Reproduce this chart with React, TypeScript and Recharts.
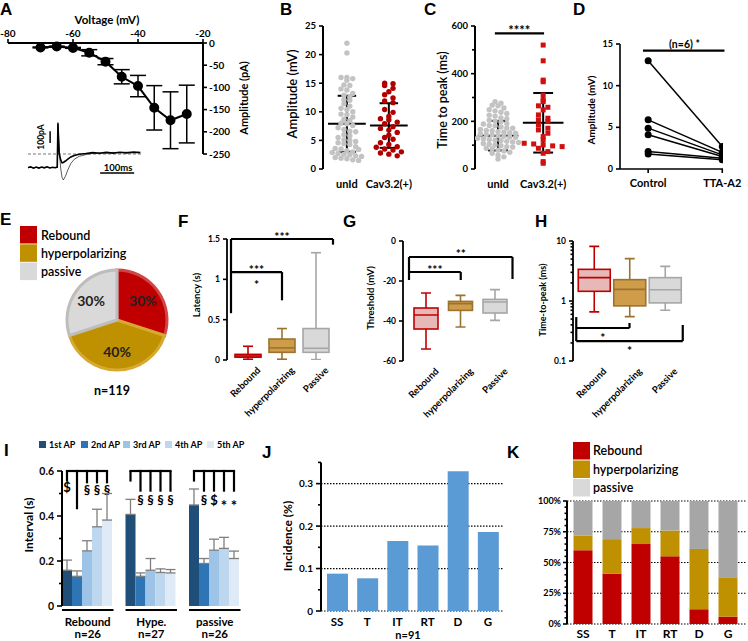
import React from "react";
import {
  LineChart,
  Line,
  XAxis,
  YAxis,
  ErrorBar,
  ScatterChart,
  Scatter,
  ReferenceLine,
  ReferenceDot,
  PieChart,
  Pie,
  Cell,
  BarChart,
  Bar,
  CartesianGrid,
} from "recharts";

const W = 748;
const H = 641;
const FONT = "Lato, 'Open Sans', sans-serif";
const HEAD_FONT = "'Liberation Sans', Arial, sans-serif";

// A: I-V relation
const voltage = [-70, -65, -60, -55, -50, -45, -40, -35, -30, -25];
const currentPA = [-10, -8, -11, -22, -42, -76, -97, -146, -174, -160];
const currentSem = [1, 1, 1, 7, 7, 16, 24, 50, 64, 65];
const aTicksX = [-80, -60, -40, -20];
const aTicksY = [0, -50, -100, -150, -200, -250];

// A inset: example current traces
const traceMs = [0, 8, 16, 24, 32, 40, 48, 56, 64, 72, 80, 86, 88, 90, 92, 96, 100, 104, 110, 118, 126, 136, 150, 170, 190, 210, 230, 250, 270, 290, 310, 330];
const traceLarge = [-118, -112, -120, -114, -119, -113, -117, -111, -118, -115, -116, -114, 270, 150, 20, -120, -200, -222, -190, -130, -80, -45, -20, -5, 5, 10, 8, 14, 10, 15, 12, 14];
const traceSmall = [-116, -110, -121, -112, -120, -111, -118, -109, -119, -113, -117, -112, 260, 110, 0, -50, -75, -72, -60, -42, -25, -12, -2, 4, 12, 6, 14, 8, 15, 10, 16, 12];

// B: amplitude (mV)
const groupNames = ["unId", "Cav3.2(+)"];
const ampUnId = [22.0, 20.3, 16.0, 16.0, 15.8, 15.5, 14.7, 14.6, 14.0, 13.8, 13.2, 12.9, 12.6, 12.1, 12.0, 11.4, 11.0, 10.6, 10.4, 10.0, 9.6, 9.5, 9.1, 8.7, 8.5, 8.0, 7.9, 7.6, 7.2, 6.9, 6.6, 6.5, 6.0, 5.8, 5.5, 5.1, 5.0, 4.6, 4.4, 4.3, 3.9, 3.6, 3.5, 3.2, 3.0, 2.9, 2.7, 2.6, 2.5, 2.3, 2.2, 2.0, 1.9, 1.8, 1.6, 1.5, 3.4, 4.8];
const ampCav = [15.0, 14.9, 14.6, 14.1, 13.5, 13.0, 12.4, 11.9, 11.6, 10.4, 9.9, 9.2, 8.8, 8.6, 8.2, 7.9, 7.4, 7.1, 6.8, 6.4, 5.9, 5.5, 5.2, 4.6, 4.3, 3.9, 3.8, 3.5, 3.3, 3.0, 2.8, 2.6, 2.3];
const ampMean = [7.9, 7.6];
const ampSd = [4.9, 3.9];

// C: time to peak (ms)
const ttpUnId = [282, 276, 268, 265, 256, 249, 244, 238, 233, 226, 222, 214, 211, 205, 201, 198, 191, 189, 183, 181, 176, 172, 171, 166, 162, 161, 157, 154, 152, 150, 147, 144, 143, 139, 137, 134, 133, 129, 127, 124, 121, 120, 116, 113, 111, 107, 104, 101, 98, 94, 92, 87, 84, 79, 76, 70, 66, 58, 51, 42];
const ttpCav = [520, 454, 373, 366, 310, 290, 283, 265, 259, 248, 227, 213, 206, 199, 185, 171, 164, 150, 136, 122, 108, 105, 101, 97, 94, 87, 73, 66, 31, 24];
const ttpMean = [140, 194];
const ttpSd = [62, 125];

// D: paired amplitude (mV)
const dCategories = ["Control", "TTA-A2"];
const ampControl = [13.0, 5.9, 4.9, 4.1, 2.1, 1.8];
const ampTTA = [2.7, 2.0, 1.7, 1.5, 1.3, 1.1];

// E: firing types
const typeNames = ["Rebound", "hyperpolarizing", "passive"];
const typeShare = [30, 40, 30];

// F, G, H: box plots
const boxCats = ["Rebound", "hyperpolarizing", "Passive"];
const latMin = [0.01, 0.01, 0.005];
const latQ1 = [0.035, 0.095, 0.095];
const latMed = [0.05, 0.15, 0.145];
const latQ3 = [0.07, 0.26, 0.39];
const latMax = [0.17, 0.39, 1.33];
const thrMin = [-54, -43, -39.7];
const thrQ1 = [-44, -34.7, -36];
const thrMed = [-37, -31.3, -30.5];
const thrQ3 = [-33.5, -30.2, -29.2];
const thrMax = [-26, -27.2, -24.3];
const ttpkMin = [0.66, 0.55, 0.7];
const ttpkQ1 = [1.45, 0.83, 0.93];
const ttpkMed = [2.45, 1.56, 1.54];
const ttpkQ3 = [3.37, 2.27, 2.45];
const ttpkMax = [8.15, 5.08, 3.78];

// I: inter-spike intervals (s)
const iGroups = ["Rebound", "Hype.", "passive"];
const iCounts = ["n=26", "n=27", "n=26"];
const apNames = ["1st AP", "2nd AP", "3rd AP", "4th AP", "5th AP"];
const ap1 = [0.159, 0.407, 0.449];
const ap2 = [0.132, 0.132, 0.189];
const ap3 = [0.245, 0.159, 0.248];
const ap4 = [0.352, 0.149, 0.256];
const ap5 = [0.382, 0.147, 0.211];
const ap1Err = [0.045, 0.067, 0.071];
const ap2Err = [0.024, 0.015, 0.022];
const ap3Err = [0.045, 0.052, 0.049];
const ap4Err = [0.078, 0.016, 0.049];
const ap5Err = [0.118, 0.015, 0.033];
const iBracketTop = 0.6;
const iLineEnd = [
  [0.553, 0.43, 0.545, 0.545, 0.545],
  [0.553, 0.508, 0.508, 0.508, 0.508],
  [0.553, 0.508, 0.508, 0.508, 0.508],
];
const iSymbols = [
  ["$", "", "§", "§", "§"],
  ["", "§", "§", "§", "§"],
  ["", "§", "$", "*", "*"],
];
const iSymbolY = [
  [0.53, 0, 0.515, 0.515, 0.515],
  [0, 0.47, 0.47, 0.47, 0.47],
  [0, 0.47, 0.47, 0.47, 0.47],
];

// J, K: by thalamic nucleus
const sites = ["SS", "T", "IT", "RT", "D", "G"];
const incidence = [0.088, 0.077, 0.165, 0.154, 0.329, 0.186];
const rebPct = [60, 41, 65, 55, 12, 6];
const hypPct = [12, 28, 13, 21, 49, 32];
const pasPct = [28, 31, 22, 24, 39, 62];

// significance brackets [x1, y1, x2, y2] in category-index / value units
const fSegs = [[0, 1.5, 2, 1.5], [0, 1.5, 0, 0.58], [2, 1.5, 2, 1.43], [0, 1.09, 1, 1.09], [1, 1.09, 1, 0.74]];
const fNotes: [number, number, string][] = [[1, 1.57, "***"], [0.5, 1.16, "***"], [0.5, 0.97, "*"]];
const gSegs = [[0, -8, 2, -8], [0, -8, 0, -19.5], [2, -8, 2, -19], [0, -15.5, 1, -15.5], [1, -15.5, 1, -19.5]];
const gNotes: [number, number, string][] = [[1, -4.8, "**"], [0.5, -12.8, "***"]];
const hSegs = [[0, 0.54, 0, 0.215], [0, 0.355, 1, 0.355], [1, 0.43, 1, 0.355], [0, 0.215, 2, 0.215], [2, 0.398, 2, 0.215]];
const hNotes: [number, number, string][] = [[0.5, 0.28, "*"], [1, 0.167, "*"]];

const RED = "#c00000";
const GOLD = "#bf9000";
const typeColors = [RED, GOLD, "#d9d9d9"];
const typeStroke = ["#d24545", "#d6aa30", "#bdbdbd"];
const apColors = ["#1f4e79", "#2e75b6", "#9dc3e6", "#bdd7ee", "#deebf7"];
const boxStroke = ["#c00000", "#9a7330", "#a6a6a6"];
const boxFill = ["#e6b8b8", "#cf9c4a", "#d9d9d9"];

// plot rectangle -> chart margin; each drawn axis is 1px thick in the layout
const pm = (l: number, t: number, r: number, b: number, axes = "") => ({
  left: l - (axes.includes("l") ? 1 : 0),
  top: t - (axes.includes("t") ? 1 : 0),
  right: W - r - (axes.includes("r") ? 1 : 0),
  bottom: H - b - (axes.includes("b") ? 1 : 0),
});
const AX = { stroke: "#000", strokeWidth: 2 };

const Layer = ({ children }: any) => (
  <div style={{ position: "absolute", left: 0, top: 0, width: W, height: H }}>{children}</div>
);

type TickOpt = {
  side: "left" | "right" | "top" | "bottom";
  major?: (v: any) => boolean;
  fmt?: (v: any) => string;
  len?: number;
  minorLen?: number;
  gap?: number;
  size?: number;
  sw?: number;
};

const makeTick = (o: TickOpt) => (p: any) => {
  const v = p.payload.value;
  const major = o.major ? o.major(v) : true;
  const len = major ? o.len ?? 4 : o.minorLen ?? 2.5;
  const gap = o.gap ?? 2;
  const size = o.size ?? 10;
  const label = major ? (o.fmt ? o.fmt(v) : String(v)) : "";
  const st = { fontFamily: FONT, fontSize: size, fontWeight: 700, fill: "#000" };
  const { x, y } = p;
  const sw = o.sw ?? 1.6;
  let ln: number[] = [];
  let tx: any = null;
  if (o.side === "left") {
    ln = [x - len, y, x, y];
    tx = <text x={x - len - gap} y={y} dy="0.35em" textAnchor="end" style={st}>{label}</text>;
  } else if (o.side === "right") {
    ln = [x, y, x + len, y];
    tx = <text x={x + len + gap} y={y} dy="0.35em" textAnchor="start" style={st}>{label}</text>;
  } else if (o.side === "top") {
    ln = [x, y - len, x, y];
    tx = <text x={x} y={y - len - gap} textAnchor="middle" style={st}>{label}</text>;
  } else {
    ln = [x, y, x, y + len];
    tx = <text x={x} y={y + len + gap + size * 0.72} textAnchor="middle" style={st}>{label}</text>;
  }
  return (
    <g>
      {len > 0 && <line x1={ln[0]} y1={ln[1]} x2={ln[2]} y2={ln[3]} stroke="#000" strokeWidth={sw} />}
      {label !== "" && tx}
    </g>
  );
};

// category names written at 45 degrees, ending just right of the box
const rotTick = (p: any) => (
  <g>
    <g transform={`translate(${p.x + 13},${p.y + 11}) rotate(-45)`}>
      <text x={0} y={0} textAnchor="end" style={{ fontFamily: FONT, fontSize: 9.5, fontWeight: 700, fill: "#000" }}>
        {p.payload.value}
      </text>
    </g>
  </g>
);

const axisBase = { tickSize: 0, tickMargin: 0, tickLine: false, interval: 0 as const };

const seg = (k: string, s: number[], ax?: string, sw = 2.2) => (
  <ReferenceLine
    key={k}
    xAxisId={ax}
    segment={[{ x: s[0], y: s[1] }, { x: s[2], y: s[3] }]}
    stroke="#000"
    strokeWidth={sw}
    ifOverflow="visible"
  />
);

const note = (k: string, x: number, y: number, text: string, size: number, ax?: string) => (
  <ReferenceDot
    key={k}
    xAxisId={ax}
    x={x}
    y={y}
    r={0}
    ifOverflow="visible"
    shape={(p: any) => (
      <text
        x={p.cx}
        y={p.cy}
        dy={/^\*+$/.test(text) ? size * 0.25 : 0}
        dominantBaseline="central"
        textAnchor="middle"
        style={{ fontFamily: FONT, fontSize: size, fontWeight: 700, fill: "#000" }}
      >
        {text}
      </text>
    )}
  />
);

// beeswarm: values falling in the same bin are spread sideways
const swarm = (vals: number[], center: number, bin: number, dx: number) => {
  const bins = new Map<number, number[]>();
  vals.forEach((v) => {
    const k = Math.round(v / bin);
    if (!bins.has(k)) bins.set(k, []);
    bins.get(k)!.push(v);
  });
  const out: { x: number; y: number }[] = [];
  bins.forEach((g) => g.forEach((v, i) => out.push({ x: center + (i - (g.length - 1) / 2) * dx, y: v })));
  return out;
};

const statLines = (pre: string, means: number[], sds: number[], half: number, cap: number) =>
  means.flatMap((m, i) => {
    const x = i + 1;
    const s = sds[i];
    return [
      seg(`${pre}m${i}`, [x - half, m, x + half, m], undefined, 2),
      seg(`${pre}v${i}`, [x, m - s, x, m + s], undefined, 2),
      seg(`${pre}t${i}`, [x - cap, m + s, x + cap, m + s], undefined, 2),
      seg(`${pre}b${i}`, [x - cap, m - s, x + cap, m - s], undefined, 2),
    ];
  });

const circle = (fill: string, r: number) => (p: any) => <circle cx={p.cx} cy={p.cy} r={r} fill={fill} />;
const square = (fill: string, s: number) => (p: any) => (
  <rect x={p.cx - s / 2} y={p.cy - s / 2} width={s} height={s} fill={fill} />
);

function PanelA() {
  const rows = voltage.map((v, i) => ({ v, amp: currentPA[i], err: currentSem[i] }));
  return (
    <Layer>
      <LineChart width={W} height={H} data={rows} margin={pm(8, 43, 203, 154, "tr")}>
        <XAxis
          dataKey="v"
          type="number"
          orientation="top"
          domain={[-80, -20]}
          ticks={aTicksX}
          height={1}
          axisLine={AX}
          {...axisBase}
          tick={makeTick({ side: "top", len: 4, gap: 2, size: 10 })}
        />
        <YAxis
          type="number"
          orientation="right"
          domain={[-250, 0]}
          ticks={aTicksY}
          width={1}
          axisLine={AX}
          {...axisBase}
          tick={makeTick({ side: "right", len: 4, gap: 2, size: 10 })}
        />
        <Line dataKey="amp" stroke="#000" strokeWidth={2} dot={{ r: 4, fill: "#000", stroke: "#000" }} isAnimationActive={false}>
          <ErrorBar dataKey="err" width={8} stroke="#000" strokeWidth={1.5} />
        </Line>
      </LineChart>
    </Layer>
  );
}

function InsetA() {
  const rows = traceMs.map((t, i) => ({ t, a: traceLarge[i], b: traceSmall[i] }));
  return (
    <Layer>
      <LineChart width={W} height={H} data={rows} margin={pm(28, 118, 143, 185)}>
        <XAxis dataKey="t" type="number" domain={[0, 338]} hide />
        <YAxis type="number" domain={[-265, 308]} hide />
        <ReferenceLine y={0} stroke="#555" strokeWidth={0.8} strokeDasharray="3 2" />
        <Line dataKey="a" stroke="#333" strokeWidth={0.8} dot={false} isAnimationActive={false} />
        <Line dataKey="b" stroke="#000" strokeWidth={1.6} dot={false} isAnimationActive={false} />
        {seg("sb1", [65, 94, 65, 194], undefined, 1.5)}
        {seg("sb2", [212, -162, 312, -162], undefined, 1.5)}
      </LineChart>
    </Layer>
  );
}

function PanelB() {
  const grey = swarm(ampUnId, 1, 0.85, 0.14);
  const red = swarm(ampCav, 2, 0.85, 0.2);
  return (
    <Layer>
      <ScatterChart width={W} height={H} margin={pm(323, 26, 414, 169, "lb")}>
        <XAxis
          dataKey="x"
          type="number"
          domain={[0.43, 2.6]}
          ticks={[1, 2]}
          allowDataOverflow
          height={1}
          axisLine={false}
          {...axisBase}
          tick={makeTick({ side: "bottom", len: 0, gap: 11, size: 11, fmt: (v) => groupNames[v - 1] })}
        />
        <YAxis
          dataKey="y"
          type="number"
          domain={[0, 25]}
          ticks={[0, 5, 10, 15, 20, 25]}
          width={1}
          axisLine={AX}
          {...axisBase}
          tick={makeTick({ side: "left", len: 4, gap: 3, size: 9.5 })}
        />
        <Scatter data={grey} shape={circle("#c3c3c3", 2.7)} isAnimationActive={false} />
        <Scatter data={red} shape={circle("#b00000", 2.7)} isAnimationActive={false} />
        {statLines("b", ampMean, ampSd, 0.45, 0.22)}
      </ScatterChart>
    </Layer>
  );
}

function PanelC() {
  const grey = swarm(ttpUnId, 1, 20, 0.13);
  const red = swarm(ttpCav, 2, 20, 0.21);
  return (
    <Layer>
      <ScatterChart width={W} height={H} margin={pm(475, 26, 568, 169, "lb")}>
        <XAxis
          dataKey="x"
          type="number"
          domain={[0.49, 2.55]}
          ticks={[1, 2]}
          allowDataOverflow
          height={1}
          axisLine={false}
          {...axisBase}
          tick={makeTick({ side: "bottom", len: 0, gap: 11, size: 11, fmt: (v) => groupNames[v - 1] })}
        />
        <YAxis
          dataKey="y"
          type="number"
          domain={[0, 600]}
          ticks={[0, 100, 200, 300, 400, 500, 600]}
          width={1}
          axisLine={AX}
          {...axisBase}
          tick={makeTick({ side: "left", len: 4, minorLen: 3, gap: 3, size: 9.5, major: (v) => v % 200 === 0 })}
        />
        <Scatter data={grey} shape={circle("#c3c3c3", 2.7)} isAnimationActive={false} />
        <Scatter data={red} shape={square("#d01010", 5)} isAnimationActive={false} />
        {statLines("c", ttpMean, ttpSd, 0.45, 0.22)}
        {seg("csig", [0.93, 569, 2.02, 569], undefined, 2.2)}
        {note("cstar", 1.47, 596, "****", 13)}
      </ScatterChart>
    </Layer>
  );
}

function PanelD() {
  return (
    <Layer>
      <ScatterChart width={W} height={H} margin={pm(620, 44, 723, 169, "lb")}>
        <XAxis
          dataKey="x"
          type="number"
          domain={[-0.38, 1.01]}
          ticks={[0, 1]}
          allowDataOverflow
          height={1}
          axisLine={{ stroke: "#000", strokeWidth: 1.6 }}
          {...axisBase}
          tick={makeTick({ side: "bottom", len: 4, gap: 6, size: 11, fmt: (v) => dCategories[v] })}
        />
        <YAxis
          dataKey="y"
          type="number"
          domain={[0, 15]}
          ticks={[0, 5, 10, 15]}
          width={1}
          axisLine={{ stroke: "#000", strokeWidth: 1.6 }}
          {...axisBase}
          tick={makeTick({ side: "left", len: 4, gap: 3, size: 9 })}
        />
        {ampControl.map((c, k) => (
          <Scatter
            key={k}
            data={[{ x: 0, y: c }, { x: 1, y: ampTTA[k] }]}
            line={{ stroke: "#000", strokeWidth: 1.5 }}
            shape={circle("#000", 3.5)}
            isAnimationActive={false}
          />
        ))}
        {seg("dsig", [-0.07, 14.2, 1.03, 14.2], undefined, 2.2)}
        {note("dn", 0.49, 14.95, "(n=6) *", 10.5)}
      </ScatterChart>
    </Layer>
  );
}

function PanelE() {
  const rows = typeNames.map((name, i) => ({ name, value: typeShare[i] }));
  const RAD = Math.PI / 180;
  const label = (p: any) => {
    const r = p.outerRadius * 0.64;
    const x = p.cx + r * Math.cos(-p.midAngle * RAD);
    const y = p.cy + r * Math.sin(-p.midAngle * RAD);
    return (
      <text x={x} y={y} dy="0.35em" textAnchor="middle" style={{ fontFamily: FONT, fontSize: 14, fontWeight: 700, fill: "#222" }}>
        {`${Math.round(p.percent * 100)}%`}
      </text>
    );
  };
  return (
    <Layer>
      <PieChart width={W} height={H} margin={{ top: 0, left: 0, right: 0, bottom: 0 }}>
        <Pie
          data={rows}
          dataKey="value"
          cx={117}
          cy={320}
          outerRadius={50}
          startAngle={90}
          endAngle={-270}
          label={label}
          labelLine={false}
          isAnimationActive={false}
        >
          {rows.map((r, i) => (
            <Cell key={r.name} fill={typeColors[i]} stroke={typeStroke[i]} strokeWidth={3} />
          ))}
        </Pie>
      </PieChart>
    </Layer>
  );
}

const makeBox = (log: boolean, cap: number) => (p: any) => {
  const { x, y, width, height, payload, index } = p;
  const f = log ? (u: number) => Math.log10(u) : (u: number) => u;
  const [lo, hi] = payload.range;
  const py = (u: number) => y + ((f(hi) - f(u)) / (f(hi) - f(lo))) * height;
  const cx = x + width / 2;
  const yq1 = py(payload.q1);
  const yq3 = py(payload.q3);
  const ym = py(payload.med);
  return (
    <g stroke={boxStroke[index]} strokeWidth={1.6} fill="none">
      <line x1={cx} y1={y} x2={cx} y2={yq3} />
      <line x1={cx} y1={yq1} x2={cx} y2={y + height} />
      <line x1={cx - cap / 2} y1={y} x2={cx + cap / 2} y2={y} />
      <line x1={cx - cap / 2} y1={y + height} x2={cx + cap / 2} y2={y + height} />
      <rect x={x} y={yq3} width={width} height={Math.max(yq1 - yq3, 0.5)} fill={boxFill[index]} />
      <line x1={x} y1={ym} x2={x + width} y2={ym} />
    </g>
  );
};

function BoxPanel({ rows, margin, padL, boxW, yDomain, yTicks, major, log, segs, notes }: any) {
  const pad = { left: padL, right: 0 };
  return (
    <Layer>
      <BarChart width={W} height={H} data={rows} margin={margin} barSize={boxW}>
        <XAxis xAxisId="c" dataKey="cat" padding={pad} height={1} axisLine={false} {...axisBase} tick={rotTick} />
        <XAxis xAxisId="n" type="number" domain={[-0.5, 2.5]} padding={pad} allowDataOverflow hide />
        <YAxis
          type="number"
          scale={log ? "log" : "auto"}
          domain={yDomain}
          ticks={yTicks}
          allowDataOverflow
          width={1}
          axisLine={{ stroke: "#000", strokeWidth: 1.8 }}
          {...axisBase}
          tick={makeTick({ side: "left", len: 4, minorLen: 2.5, gap: 3, size: 8.5, major })}
        />
        <Bar xAxisId="c" dataKey="range" shape={makeBox(log, 10)} isAnimationActive={false} />
        {segs.map((s: number[], k: number) => seg(`s${k}`, s, "n", 2.2))}
        {notes.map((n: any, k: number) => note(`n${k}`, n[0], n[1], n[2], 12, "n"))}
      </BarChart>
    </Layer>
  );
}

const boxRows = (mn: number[], q1: number[], md: number[], q3: number[], mx: number[]) =>
  boxCats.map((cat, i) => ({ cat, range: [mn[i], mx[i]], q1: q1[i], med: md[i], q3: q3[i] }));

const logTicks = [0.1, 0.2, 0.3, 0.4, 0.5, 0.6, 0.7, 0.8, 0.9, 1, 2, 3, 4, 5, 6, 7, 8, 9, 10];

function PanelI() {
  const means = [ap1, ap2, ap3, ap4, ap5];
  const errs = [ap1Err, ap2Err, ap3Err, ap4Err, ap5Err];
  const rows = iGroups.map((g, i) => {
    const r: any = { g };
    means.forEach((m, j) => {
      r[`a${j}`] = m[i];
      r[`e${j}`] = [0, errs[j][i]];
    });
    return r;
  });
  const apShape = (j: number) => (p: any) => {
    const { x, y, width, height, index, payload } = p;
    const v = payload[`a${j}`];
    const base = y + height;
    const py = (u: number) => base - (u / v) * height;
    const cx = x + width / 2;
    const top = py(iBracketTop);
    const sym = iSymbols[index][j];
    return (
      <g>
        <rect x={x} y={y} width={width} height={height} fill={apColors[j]} />
        <line x1={cx} y1={top} x2={cx} y2={py(iLineEnd[index][j])} stroke="#000" strokeWidth={2.2} />
        {j < 4 && <line x1={cx - 1.1} y1={top} x2={cx + width + 1.1} y2={top} stroke="#000" strokeWidth={2.2} />}
        {sym && (
          <text
            x={cx}
            y={py(iSymbolY[index][j])}
            dy={sym === "*" ? 5 : 0}
            dominantBaseline="central"
            textAnchor="middle"
            style={{ fontFamily: FONT, fontSize: sym === "*" ? 15 : 13, fontWeight: 700, fill: "#000" }}
          >
            {sym}
          </text>
        )}
      </g>
    );
  };
  const groupTick = (p: any) => {
    const half = (p.payload.offset ?? 31.75) - 6;
    const st = { fontFamily: FONT, fontSize: 11.5, fontWeight: 700, fill: "#000" };
    return (
      <g>
        <line x1={p.x - half} y1={p.y + 4} x2={p.x + half} y2={p.y + 4} stroke="#000" strokeWidth={2} />
        <text x={p.x} y={p.y + 20} textAnchor="middle" style={st}>{iGroups[p.index]}</text>
        <text x={p.x} y={p.y + 32} textAnchor="middle" style={st}>{iCounts[p.index]}</text>
      </g>
    );
  };
  return (
    <Layer>
      <BarChart width={W} height={H} data={rows} margin={pm(62, 471, 246.5, 606, "lb")} barCategoryGap={6} barGap={0}>
        <XAxis dataKey="g" padding={{ left: -6, right: 0 }} height={1} axisLine={false} {...axisBase} tick={groupTick} />
        <YAxis
          type="number"
          domain={[0, 0.6]}
          ticks={[0, 0.1, 0.2, 0.3, 0.4, 0.5, 0.6]}
          width={1}
          axisLine={AX}
          {...axisBase}
          tick={makeTick({
            side: "left",
            len: 5,
            minorLen: 3,
            gap: 3,
            size: 10.5,
            major: (v) => Math.abs(v * 5 - Math.round(v * 5)) < 1e-6,
            fmt: (v) => (v === 0 ? "0" : v.toFixed(1)),
          })}
        />
        {apNames.map((n, j) => (
          <Bar key={n} dataKey={`a${j}`} fill={apColors[j]} shape={apShape(j)} isAnimationActive={false}>
            <ErrorBar dataKey={`e${j}`} width={5} stroke="#7f7f7f" strokeWidth={1.3} direction="y" />
          </Bar>
        ))}
      </BarChart>
    </Layer>
  );
}

function PanelJ() {
  const rows = sites.map((site, i) => ({ site, inc: incidence[i] }));
  return (
    <Layer>
      <BarChart width={W} height={H} data={rows} margin={pm(321, 462.4, 503, 611, "lb")} barSize={21}>
        <CartesianGrid vertical={false} horizontalValues={[0, 0.1, 0.2, 0.3]} stroke="#000" strokeWidth={1.2} strokeDasharray="1.5 1.5" />
        <XAxis
          dataKey="site"
          padding={{ left: 1, right: 0 }}
          height={1}
          axisLine={false}
          {...axisBase}
          tick={makeTick({ side: "bottom", len: 0, gap: 6.7, size: 11.5 })}
        />
        <YAxis
          type="number"
          domain={[0, 0.35]}
          ticks={[0, 0.05, 0.1, 0.15, 0.2, 0.25, 0.3, 0.35]}
          width={1}
          axisLine={AX}
          {...axisBase}
          tick={makeTick({
            side: "left",
            len: 5,
            minorLen: 3,
            gap: 3,
            size: 10,
            major: (v) => Math.abs(v * 10 - Math.round(v * 10)) < 1e-6,
            fmt: (v) => (v === 0 ? "0" : v.toFixed(1)),
          })}
        />
        <Bar dataKey="inc" fill="#5b9bd5" isAnimationActive={false} />
      </BarChart>
    </Layer>
  );
}

function PanelK() {
  const rows = sites.map((site, i) => ({ site, reb: rebPct[i], hyp: hypPct[i], pas: pasPct[i] }));
  return (
    <Layer>
      <BarChart width={W} height={H} data={rows} margin={pm(567, 501, 747, 624, "lb")} barSize={19}>
        <CartesianGrid vertical={false} horizontalValues={[0, 25, 50, 75, 100]} stroke="#000" strokeWidth={1.2} strokeDasharray="1.5 1.5" />
        <XAxis
          dataKey="site"
          padding={{ left: 1.5, right: 4.5 }}
          height={1}
          axisLine={false}
          {...axisBase}
          tick={makeTick({ side: "bottom", len: 0, gap: 5.4, size: 12 })}
        />
        <YAxis
          type="number"
          domain={[0, 100]}
          ticks={[0, 5, 10, 15, 20, 25, 30, 35, 40, 45, 50, 55, 60, 65, 70, 75, 80, 85, 90, 95, 100]}
          width={1}
          axisLine={AX}
          {...axisBase}
          tick={makeTick({ side: "left", len: 4, minorLen: 2.5, gap: 2, size: 9, major: (v) => v % 25 === 0, fmt: (v) => `${v}%` })}
        />
        <Bar dataKey="reb" stackId="k" fill={RED} isAnimationActive={false} />
        <Bar dataKey="hyp" stackId="k" fill={GOLD} isAnimationActive={false} />
        <Bar dataKey="pas" stackId="k" fill="#a6a6a6" isAnimationActive={false} />
      </BarChart>
    </Layer>
  );
}

const T = ({ x, y, s = 12, w = 700, a = "middle", rot = 0, f = FONT, children }: any) => (
  <text
    x={x}
    y={y}
    textAnchor={a}
    dominantBaseline="central"
    transform={rot ? `rotate(${rot} ${x} ${y})` : undefined}
    style={{ fontFamily: f, fontSize: s, fontWeight: w, fill: "#000" }}
  >
    {children}
  </text>
);

function Labels() {
  const letters: [string, number, number][] = [
    ["A", 0, 9], ["B", 280, 9], ["C", 424, 9], ["D", 573, 9],
    ["E", 0, 219.5], ["F", 178, 221], ["G", 343, 221], ["H", 535, 221],
    ["I", 4, 450], ["J", 262, 452], ["K", 507, 452],
  ];
  return (
    <svg width={W} height={H} style={{ position: "absolute", left: 0, top: 0, pointerEvents: "none" }}>
      {letters.map(([t, x, y]) => (
        <T key={t} x={x} y={y} s={17} a="start" f={HEAD_FONT}>{t}</T>
      ))}
      <T x={107} y={19} s={11.5}>Voltage (mV)</T>
      <T x={243} y={98} s={11} rot={-90}>Amplitude (pA)</T>
      <T x={41} y={137} s={8.5} rot={-90}>100pA</T>
      <T x={118} y={167.5} s={9.5}>100ms</T>
      <T x={292} y={94} s={13} w={600} rot={-90}>Amplitude (mV)</T>
      <T x={442} y={100} s={12.5} w={600} rot={-90}>Time to peak (ms)</T>
      <T x={591} y={110} s={10} rot={-90}>Amplitude (mV)</T>
      {typeNames.map((n, i) => (
        <g key={n}>
          <rect x={20} y={226 + i * 18.3} width={17} height={17.5} fill={typeColors[i]} />
          <T x={41} y={235 + i * 18.3} s={12.5} w={600} a="start">{n}</T>
        </g>
      ))}
      <T x={112} y={390} s={12.5}>n=119</T>
      <T x={196} y={295} s={9.5} rot={-90}>Latency (s)</T>
      <T x={370} y={298} s={9.5} rot={-90}>Threshold (mV)</T>
      <T x={542} y={300} s={9} rot={-90}>Time-to-peak (ms)</T>
      {apNames.map((n, j) => (
        <g key={n}>
          <rect x={39 + j * 42} y={441} width={7} height={7} fill={apColors[j]} />
          <T x={49 + j * 42} y={444.5} s={9} a="start">{n}</T>
        </g>
      ))}
      <T x={28} y={525} s={12} rot={-90}>Interval (s)</T>
      <T x={287} y={536} s={12} rot={-90}>Incidence (%)</T>
      <T x={408} y={634.5} s={11}>n=91</T>
      {typeNames.map((n, i) => (
        <g key={`k${n}`}>
          <rect x={573} y={442 + i * 18.5} width={17} height={17.5} fill={typeColors[i]} />
          <T x={593} y={450.5 + i * 18.5} s={12.5} w={600} a="start">{n}</T>
        </g>
      ))}
    </svg>
  );
}

export default function App() {
  return (
    <div style={{ position: "relative", width: W, height: H, background: "#fff", overflow: "hidden" }}>
      <style>{"body{margin:0}"}</style>
      <PanelA />
      <InsetA />
      <PanelB />
      <PanelC />
      <PanelD />
      <PanelE />
      <BoxPanel
        rows={boxRows(latMin, latQ1, latMed, latQ3, latMax)}
        margin={pm(227, 239, 333, 360, "lb")}
        padL={4}
        boxW={26}
        yDomain={[0, 1.5]}
        yTicks={[0, 0.5, 1, 1.5]}
        log={false}
        segs={fSegs}
        notes={fNotes}
      />
      <BoxPanel
        rows={boxRows(thrMin, thrQ1, thrMed, thrQ3, thrMax)}
        margin={pm(403, 241, 512.5, 361, "lb")}
        padL={6}
        boxW={24}
        yDomain={[-60, 0]}
        yTicks={[-60, -40, -20, 0]}
        log={false}
        segs={gSegs}
        notes={gNotes}
      />
      <BoxPanel
        rows={boxRows(ttpkMin, ttpkQ1, ttpkMed, ttpkQ3, ttpkMax)}
        margin={pm(573, 241, 682.75, 361, "lb")}
        padL={3.25}
        boxW={32}
        yDomain={[0.1, 10]}
        yTicks={logTicks}
        major={(v: number) => Math.abs(Math.log10(v) - Math.round(Math.log10(v))) < 1e-6}
        log={true}
        segs={hSegs}
        notes={hNotes}
      />
      <PanelI />
      <PanelJ />
      <PanelK />
      <Labels />
    </div>
  );
}
